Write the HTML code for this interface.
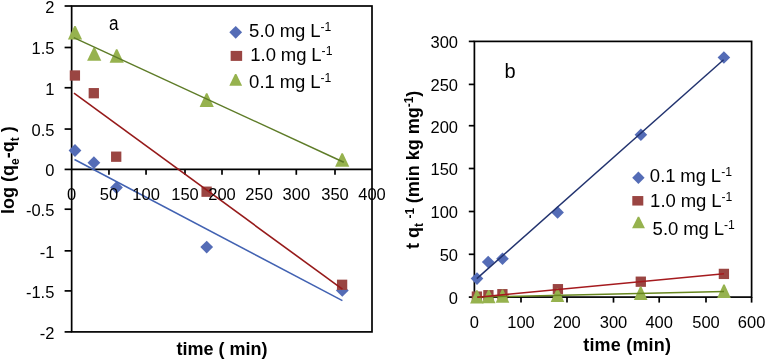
<!DOCTYPE html><html><head><meta charset="utf-8"><style>html,body{margin:0;padding:0;background:#fff;}svg{display:block;will-change:transform;}</style></head><body>
<svg width="767" height="360" viewBox="0 0 767 360" font-family='"Liberation Sans", sans-serif'>
<rect width="767" height="360" fill="#fff"/>
<rect x="71.65" y="6.0" width="300.35" height="325.90" fill="none" stroke="#000" stroke-width="1.7"/>
<line x1="71.65" y1="169.4" x2="372.0" y2="169.4" stroke="#000" stroke-width="1.7"/>
<line x1="108.96" y1="169.4" x2="108.96" y2="174.8" stroke="#000" stroke-width="1.7"/>
<line x1="146.05" y1="169.4" x2="146.05" y2="174.8" stroke="#000" stroke-width="1.7"/>
<line x1="185.0" y1="169.4" x2="185.0" y2="174.8" stroke="#000" stroke-width="1.7"/>
<line x1="222.0" y1="169.4" x2="222.0" y2="174.8" stroke="#000" stroke-width="1.7"/>
<line x1="259.1" y1="169.4" x2="259.1" y2="174.8" stroke="#000" stroke-width="1.7"/>
<line x1="296.3" y1="169.4" x2="296.3" y2="174.8" stroke="#000" stroke-width="1.7"/>
<line x1="335.0" y1="169.4" x2="335.0" y2="174.8" stroke="#000" stroke-width="1.7"/>
<line x1="64.6" y1="6.0" x2="71.65" y2="6.0" stroke="#000" stroke-width="1.7"/>
<line x1="64.6" y1="47.5" x2="71.65" y2="47.5" stroke="#000" stroke-width="1.7"/>
<line x1="64.6" y1="87.75" x2="71.65" y2="87.75" stroke="#000" stroke-width="1.7"/>
<line x1="64.6" y1="129.05" x2="71.65" y2="129.05" stroke="#000" stroke-width="1.7"/>
<line x1="64.6" y1="169.4" x2="71.65" y2="169.4" stroke="#000" stroke-width="1.7"/>
<line x1="64.6" y1="209.2" x2="71.65" y2="209.2" stroke="#000" stroke-width="1.7"/>
<line x1="64.6" y1="250.85" x2="71.65" y2="250.85" stroke="#000" stroke-width="1.7"/>
<line x1="64.6" y1="290.9" x2="71.65" y2="290.9" stroke="#000" stroke-width="1.7"/>
<line x1="64.6" y1="331.9" x2="71.65" y2="331.9" stroke="#000" stroke-width="1.7"/>
<polygon points="75.00,144.10 81.40,150.50 75.00,156.90 68.60,150.50" fill="#546cb6"/>
<polygon points="93.90,156.30 100.30,162.70 93.90,169.10 87.50,162.70" fill="#546cb6"/>
<polygon points="116.50,181.20 122.90,187.60 116.50,194.00 110.10,187.60" fill="#546cb6"/>
<polygon points="206.70,240.70 213.10,247.10 206.70,253.50 200.30,247.10" fill="#546cb6"/>
<polygon points="342.30,284.00 348.70,290.40 342.30,296.80 335.90,290.40" fill="#546cb6"/>
<rect x="69.75" y="70.35" width="10.3" height="10.3" fill="#9a4542"/>
<rect x="88.65" y="88.05" width="10.3" height="10.3" fill="#9a4542"/>
<rect x="111.05" y="151.55" width="10.3" height="10.3" fill="#9a4542"/>
<rect x="201.45" y="186.55" width="10.3" height="10.3" fill="#9a4542"/>
<rect x="336.95" y="279.65" width="10.3" height="10.3" fill="#9a4542"/>
<polygon points="74.30,26.00 75.70,26.00 82.10,39.4 67.90,39.4" fill="#96b24e"/>
<polygon points="93.50,47.50 94.90,47.50 101.30,60.7 87.10,60.7" fill="#96b24e"/>
<polygon points="116.00,49.30 117.40,49.30 123.80,62.7 109.60,62.7" fill="#96b24e"/>
<polygon points="206.00,93.30 207.40,93.30 213.80,106.9 199.60,106.9" fill="#96b24e"/>
<polygon points="341.50,153.20 342.90,153.20 349.30,166.8 335.10,166.8" fill="#96b24e"/>
<line x1="73.75" y1="37.6" x2="343.75" y2="162.2" stroke="#5e7c28" stroke-width="1.5"/>
<line x1="74" y1="93.2" x2="342.4" y2="289.2" stroke="#961a1a" stroke-width="1.6"/>
<line x1="74.5" y1="159.5" x2="342.4" y2="300.6" stroke="#4262b2" stroke-width="1.5"/>
<text x="54.4" y="12.90" font-size="16.5" text-anchor="end">2</text>
<text x="54.4" y="54.40" font-size="16.5" text-anchor="end">1.5</text>
<text x="54.4" y="94.65" font-size="16.5" text-anchor="end">1</text>
<text x="54.4" y="135.95" font-size="16.5" text-anchor="end">0.5</text>
<text x="54.4" y="176.30" font-size="16.5" text-anchor="end">0</text>
<text x="54.4" y="216.10" font-size="16.5" text-anchor="end">-0.5</text>
<text x="54.4" y="257.75" font-size="16.5" text-anchor="end">-1</text>
<text x="54.4" y="297.80" font-size="16.5" text-anchor="end">-1.5</text>
<text x="54.4" y="338.80" font-size="16.5" text-anchor="end">-2</text>
<text x="71.65" y="199.8" font-size="16.5" text-anchor="middle">0</text>
<text x="108.96" y="199.8" font-size="16.5" text-anchor="middle">50</text>
<text x="146.05" y="199.8" font-size="16.5" text-anchor="middle">100</text>
<text x="185.00" y="199.8" font-size="16.5" text-anchor="middle">150</text>
<text x="222.00" y="199.8" font-size="16.5" text-anchor="middle">200</text>
<text x="259.10" y="199.8" font-size="16.5" text-anchor="middle">250</text>
<text x="296.30" y="199.8" font-size="16.5" text-anchor="middle">300</text>
<text x="335.00" y="199.8" font-size="16.5" text-anchor="middle">350</text>
<text x="372.00" y="199.8" font-size="16.5" text-anchor="middle">400</text>
<text transform="translate(108.9,30.4) scale(0.86,1.04)" font-size="20">a</text>
<polygon points="235.70,25.90 242.10,32.30 235.70,38.70 229.30,32.30" fill="#546cb6"/>
<text x="249.1" y="36.9" font-size="18.5" letter-spacing="0.05" word-spacing="-0.5">5.0 mg L<tspan font-size="12.2" dy="-6">-1</tspan></text>
<rect x="230.65" y="50.90" width="11.5" height="10" fill="#9a4542"/>
<text x="250.2" y="60.6" font-size="18.5" letter-spacing="0.05" word-spacing="-0.5">1.0 mg L<tspan font-size="12.2" dy="-6">-1</tspan></text>
<polygon points="235.00,74.10 236.40,74.10 242.10,85.8 229.30,85.8" fill="#96b24e"/>
<text x="249.1" y="87.6" font-size="18.5" letter-spacing="0.05" word-spacing="-0.5">0.1 mg L<tspan font-size="12.2" dy="-6">-1</tspan></text>
<text x="176.6" y="355.2" font-size="18" font-weight="bold">time ( min)</text>
<text transform="translate(14.3,214) rotate(-90)" font-size="18" font-weight="bold">log (q<tspan font-size="12" dy="4.5">e</tspan><tspan dy="-4.5">-q</tspan><tspan font-size="12" dy="4.5">t</tspan><tspan dy="-4.5"> )</tspan></text>
<rect x="474.4" y="41.4" width="277.20" height="255.70" fill="none" stroke="#000" stroke-width="1.7"/>
<line x1="474.4" y1="297.1" x2="474.4" y2="302.6" stroke="#000" stroke-width="1.7"/>
<line x1="521.0" y1="297.1" x2="521.0" y2="302.6" stroke="#000" stroke-width="1.7"/>
<line x1="567.0" y1="297.1" x2="567.0" y2="302.6" stroke="#000" stroke-width="1.7"/>
<line x1="613.5" y1="297.1" x2="613.5" y2="302.6" stroke="#000" stroke-width="1.7"/>
<line x1="659.2" y1="297.1" x2="659.2" y2="302.6" stroke="#000" stroke-width="1.7"/>
<line x1="706.0" y1="297.1" x2="706.0" y2="302.6" stroke="#000" stroke-width="1.7"/>
<line x1="751.6" y1="297.1" x2="751.6" y2="302.6" stroke="#000" stroke-width="1.7"/>
<line x1="468.8" y1="297.1" x2="474.4" y2="297.1" stroke="#000" stroke-width="1.7"/>
<line x1="468.8" y1="254.3" x2="474.4" y2="254.3" stroke="#000" stroke-width="1.7"/>
<line x1="468.8" y1="211.5" x2="474.4" y2="211.5" stroke="#000" stroke-width="1.7"/>
<line x1="468.8" y1="168.5" x2="474.4" y2="168.5" stroke="#000" stroke-width="1.7"/>
<line x1="468.8" y1="125.7" x2="474.4" y2="125.7" stroke="#000" stroke-width="1.7"/>
<line x1="468.8" y1="84.4" x2="474.4" y2="84.4" stroke="#000" stroke-width="1.7"/>
<line x1="468.8" y1="41.4" x2="474.4" y2="41.4" stroke="#000" stroke-width="1.7"/>
<polygon points="477.00,272.30 483.30,278.60 477.00,284.90 470.70,278.60" fill="#546cb6"/>
<polygon points="488.20,255.70 494.50,262.00 488.20,268.30 481.90,262.00" fill="#546cb6"/>
<polygon points="502.50,252.40 508.80,258.70 502.50,265.00 496.20,258.70" fill="#546cb6"/>
<polygon points="557.60,206.10 563.90,212.40 557.60,218.70 551.30,212.40" fill="#546cb6"/>
<polygon points="640.90,128.50 647.20,134.80 640.90,141.10 634.60,134.80" fill="#546cb6"/>
<polygon points="723.90,51.20 730.20,57.50 723.90,63.80 717.60,57.50" fill="#546cb6"/>
<rect x="471.75" y="291.45" width="10.3" height="10.3" fill="#9a4542"/>
<rect x="483.25" y="290.05" width="10.3" height="10.3" fill="#9a4542"/>
<rect x="497.25" y="289.05" width="10.3" height="10.3" fill="#9a4542"/>
<rect x="552.75" y="284.05" width="10.3" height="10.3" fill="#9a4542"/>
<rect x="635.65" y="276.55" width="10.3" height="10.3" fill="#9a4542"/>
<rect x="718.75" y="268.75" width="10.3" height="10.3" fill="#9a4542"/>
<polygon points="476.20,290.30 477.60,290.30 483.70,303.5 470.10,303.5" fill="#96b24e"/>
<polygon points="488.00,289.90 489.40,289.90 495.50,303.3 481.90,303.3" fill="#96b24e"/>
<polygon points="501.80,289.40 503.20,289.40 509.30,302.8 495.70,302.8" fill="#96b24e"/>
<polygon points="556.80,288.50 558.20,288.50 564.30,302.1 550.70,302.1" fill="#96b24e"/>
<polygon points="640.00,286.50 641.40,286.50 647.50,300.1 633.90,300.1" fill="#96b24e"/>
<polygon points="723.30,284.40 724.70,284.40 730.80,298 717.20,298" fill="#96b24e"/>
<line x1="476.8" y1="278.6" x2="723.6" y2="59.8" stroke="#22336f" stroke-width="1.5"/>
<line x1="477" y1="297.1" x2="724" y2="291.4" stroke="#67861f" stroke-width="1.5"/>
<line x1="477.3" y1="297.2" x2="724" y2="273.7" stroke="#a51a1e" stroke-width="1.6"/>
<text x="458.0" y="304.00" font-size="16.5" text-anchor="end">0</text>
<text x="458.0" y="261.20" font-size="16.5" text-anchor="end">50</text>
<text x="458.0" y="218.40" font-size="16.5" text-anchor="end">100</text>
<text x="458.0" y="175.40" font-size="16.5" text-anchor="end">150</text>
<text x="458.0" y="132.60" font-size="16.5" text-anchor="end">200</text>
<text x="458.0" y="91.30" font-size="16.5" text-anchor="end">250</text>
<text x="458.0" y="48.30" font-size="16.5" text-anchor="end">300</text>
<text x="474.40" y="327.9" font-size="16.5" text-anchor="middle">0</text>
<text x="521.00" y="327.9" font-size="16.5" text-anchor="middle">100</text>
<text x="567.00" y="327.9" font-size="16.5" text-anchor="middle">200</text>
<text x="613.50" y="327.9" font-size="16.5" text-anchor="middle">300</text>
<text x="659.20" y="327.9" font-size="16.5" text-anchor="middle">400</text>
<text x="706.00" y="327.9" font-size="16.5" text-anchor="middle">500</text>
<text x="751.60" y="327.9" font-size="16.5" text-anchor="middle">600</text>
<text x="504.5" y="77.8" font-size="20">b</text>
<polygon points="638.40,171.60 644.60,177.80 638.40,184.00 632.20,177.80" fill="#546cb6"/>
<text x="649.8" y="182.3" font-size="18.5" letter-spacing="0.05" word-spacing="-0.5">0.1 mg L<tspan font-size="12.2" dy="-6">-1</tspan></text>
<rect x="632.30" y="196.05" width="11" height="9.5" fill="#9a4542"/>
<text x="650.1" y="207.2" font-size="18.5" letter-spacing="0.05" word-spacing="-0.5">1.0 mg L<tspan font-size="12.2" dy="-6">-1</tspan></text>
<polygon points="637.80,216.80 639.20,216.80 644.95,228.3 632.05,228.3" fill="#96b24e"/>
<text x="652.6" y="235" font-size="18.5" letter-spacing="0.05" word-spacing="-0.5">5.0 mg L<tspan font-size="12.2" dy="-6">-1</tspan></text>
<text x="583.2" y="351.3" font-size="18" font-weight="bold" letter-spacing="0.2">time (min)</text>
<text transform="translate(418.5,249) rotate(-90)" font-size="18" font-weight="bold">t q<tspan font-size="12" dy="4.7">t</tspan><tspan font-size="12" dy="-9.7" dx="4.5">-1</tspan><tspan dy="5" dx="-0.5"> (min kg mg</tspan><tspan font-size="12" dy="-6">-1</tspan><tspan dy="6">)</tspan></text>
</svg></body></html>
